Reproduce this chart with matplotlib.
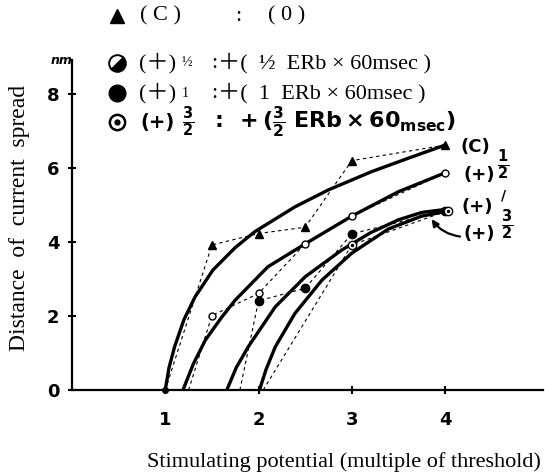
import matplotlib.pyplot as plt
from matplotlib.markers import MarkerStyle
from matplotlib.transforms import Affine2D
from matplotlib.patches import FancyArrowPatch

# values (x: multiple of threshold, y: mm)
# measured points (dashed lines), each line starts on the x axis
c_start = 1.0
c_x = [1.5, 2.0, 2.5, 3.0, 4.0]
c_y = [3.92, 4.23, 4.40, 6.20, 6.62]

half_start = 1.25
half_x = [1.5, 2.0, 2.5, 3.0, 4.0]
half_y = [2.01, 2.61, 3.95, 4.70, 5.87]

one_start = 1.8
one_x = [2.0, 2.5, 3.0, 4.0]
one_y = [2.41, 2.75, 4.22, 4.85]

three_start = 2.05
three_x = [3.0, 4.03]
three_y = [3.92, 4.85]

# hand drawn fitted curves (solid lines)
c_fit_x = [1.0, 1.04, 1.1, 1.2, 1.32, 1.51, 1.75, 1.96, 2.39, 2.75, 3.21, 3.6, 4.0]
c_fit_y = [0.0, 0.6, 1.17, 1.9, 2.52, 3.24, 3.85, 4.28, 4.95, 5.41, 5.90, 6.26, 6.62]
half_fit_x = [1.19, 1.3, 1.43, 1.6, 1.75, 2.1, 2.5, 3.0, 3.5, 4.0]
half_fit_y = [0.0, 0.7, 1.35, 1.95, 2.43, 3.33, 3.95, 4.70, 5.36, 5.87]
one_fit_x = [1.66, 1.76, 1.89, 2.18, 2.5, 2.89, 3.2, 3.5, 3.75, 4.0]
one_fit_y = [0.0, 0.6, 1.17, 2.25, 3.06, 3.78, 4.25, 4.6, 4.8, 4.88]
three_fit_x = [2.01, 2.08, 2.18, 2.39, 2.68, 3.0, 3.39, 3.75, 4.0]
three_fit_y = [0.0, 0.55, 1.17, 2.07, 2.97, 3.70, 4.35, 4.70, 4.82]

xticks = [1, 2, 3, 4]
yticks = [0, 2, 4, 6, 8]

serif = ['Liberation Serif', 'Noto Sans CJK JP']
hand = 'DejaVu Sans'
plt.rcParams['mathtext.fontset'] = 'dejavusans'

half_marker = MarkerStyle('o', fillstyle='bottom', transform=Affine2D().rotate_deg(45))

fig = plt.figure(figsize=(5.45, 4.74), dpi=100)
ax = fig.add_axes([72/545, 84/474, 471/545, 330/474])
ax.set_xlim(0, 5.05)
ax.set_ylim(0, 8.92)

for s in ['top', 'right']:
    ax.spines[s].set_visible(False)
for s in ['left', 'bottom']:
    ax.spines[s].set_linewidth(1.6)

ax.set_xticks(xticks)
ax.set_yticks(yticks)
ax.tick_params(direction='inout', length=6, width=1.5, labelsize=13)
ax.tick_params(axis='x', pad=12)
ax.tick_params(axis='y', pad=6)
for lbl in ax.get_xticklabels() + ax.get_yticklabels():
    lbl.set_fontweight('bold')
    lbl.set_family(hand)

dash = dict(color='black', lw=0.8, ls=(0, (3, 3)))
ax.plot([c_start] + c_x, [0] + c_y, **dash)
ax.plot([half_start] + half_x, [0] + half_y, **dash)
ax.plot([one_start] + one_x, [0] + one_y, **dash)
ax.plot([three_start] + three_x, [0] + three_y, **dash)

thick = dict(color='black', lw=2.4, solid_capstyle='round')
ax.plot(c_fit_x, c_fit_y, **thick)
ax.plot(half_fit_x, half_fit_y, **thick)
ax.plot(one_fit_x, one_fit_y, **thick)
ax.plot(three_fit_x, three_fit_y, **thick)

ax.plot(c_x, c_y, ls='none', marker='^', ms=6, color='black', zorder=5)
ax.plot(half_x, half_y, ls='none', marker='o', ms=5, mfc='white', mec='black', mew=1, zorder=5)
ax.plot(one_x, one_y, ls='none', marker='o', ms=6, color='black', zorder=5)
ax.plot(three_x, three_y, ls='none', marker='o', ms=6, mfc='white', mec='black', mew=1, zorder=5)
ax.plot(three_x, three_y, ls='none', marker='.', ms=3, color='black', zorder=6)

ax.plot([c_start], [0], ls='none', marker='o', ms=4, color='black', clip_on=False, zorder=6)

# curve labels at the right
lab = dict(fontsize=13, fontweight='bold', family=hand, ha='center', va='center')
ax.text(4.32, 6.57, '(C)', **lab)
ax.text(4.37, 5.81, '(+)', **lab)
ax.text(4.62, 6.08, r'$\frac{\mathbf{1}}{\mathbf{2}}$', fontsize=15, ha='center', va='center')
ax.text(4.35, 4.95, '(+)', **lab)
ax.text(4.63, 5.25, '/', fontsize=10, fontweight='bold', family=hand, ha='center', va='center')
ax.text(4.37, 4.22, '(+)', **lab)
ax.text(4.66, 4.46, r'$\frac{\mathbf{3}}{\mathbf{2}}$', fontsize=15, ha='center', va='center')
ax.add_patch(FancyArrowPatch((4.19, 4.14), (3.84, 4.68), connectionstyle='arc3,rad=-0.25',
                             arrowstyle='-|>', mutation_scale=10, lw=1.6, color='black'))

# legend and labels drawn in pixel space
lay = fig.add_axes([0, 0, 1, 1], facecolor='none')
lay.set_xlim(0, 545)
lay.set_ylim(474, 0)
lay.axis('off')

rows = [16, 63, 93, 122]
mx = 117
lay.plot([mx], [rows[0]], marker='^', ms=10, color='black')
lay.plot([mx], [rows[1]], marker=half_marker, ms=12, mfc='black', mfcalt='white', mec='black', mew=1.4)
lay.plot([mx], [rows[2]], marker='o', ms=12, color='black')
lay.plot([mx], [rows[3]], marker='o', ms=11, mfc='white', mec='black', mew=1.8)
lay.plot([mx], [rows[3]], marker='o', ms=3.5, color='black')

tx = dict(fontsize=16, family=serif, va='center')
lay.text(140, rows[0], '( C )', **tx)
lay.text(235, rows[0], ':', **tx)
lay.text(268, rows[0], '( 0 )', **tx)
lay.text(139, rows[1], '(＋)', **tx)
lay.text(181, rows[1], '½', fontsize=10, family=serif, va='center')
lay.text(211, rows[1], ':', **tx)
lay.text(218, rows[1], '＋(  ½  ERb × 60msec )', **tx)
lay.text(139, rows[2], '(＋)', **tx)
lay.text(182, rows[2], '1', fontsize=10, family=serif, va='center')
lay.text(211, rows[2], ':', **tx)
lay.text(218, rows[2], '＋(  1  ERb × 60msec )', **tx)
lay.text(140, rows[3], '(+)', fontsize=14, family=hand, fontweight='bold', va='center')
lay.text(182, rows[3], r'$\frac{\mathbf{3}}{\mathbf{2}}$', fontsize=15, va='center')
lay.text(210, rows[3],
         r'$\mathbf{:\ +(}\frac{\mathbf{3}}{\mathbf{2}}\ \mathbf{ERb\times 60}_{\mathbf{msec}}\mathbf{)}$',
         fontsize=16, va='center')

lay.text(62, 60, 'nm', fontsize=9, fontweight='bold', family=hand, style='italic', ha='center', va='center')
lay.text(20, 218, 'Distance  of  current  spread', fontsize=17, family=serif, rotation=90,
         ha='center', va='center')
lay.text(541, 462, 'Stimulating potential (multiple of threshold)', fontsize=16, family=serif,
         ha='right', va='center')

fig.savefig('out.png', dpi=100)
